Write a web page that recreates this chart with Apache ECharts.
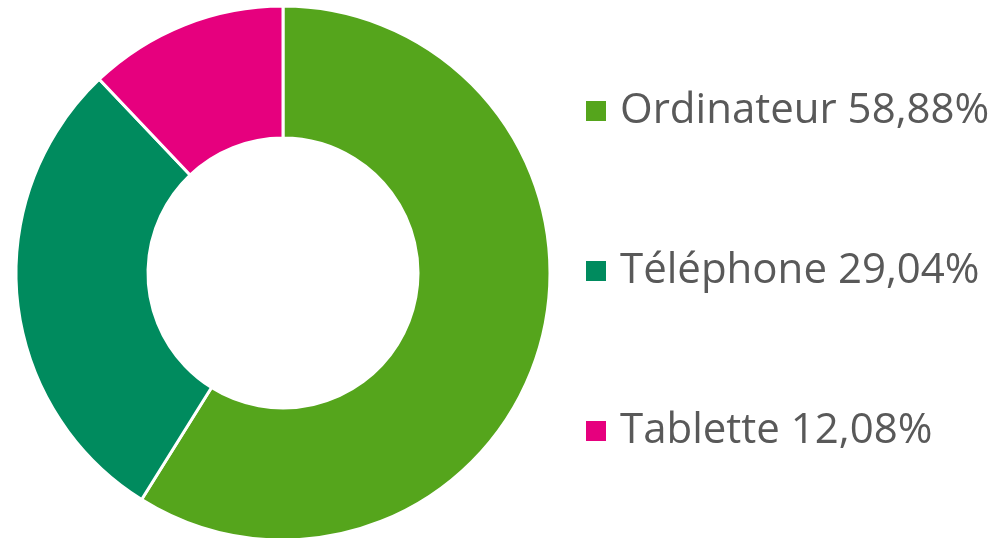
<!DOCTYPE html>
<html><head><meta charset="utf-8">
<script src="https://cdn.jsdelivr.net/npm/echarts@6/dist/echarts.min.js"></script>
<style>html,body{margin:0;padding:0;background:#fff}#c{width:995px;height:538px}</style>
</head><body><div id="c"></div>
<script>
const categories = ['Ordinateur', 'Téléphone', 'Tablette'];
const values = [58.88, 29.04, 12.08];
const labels = ['58,88%', '29,04%', '12,08%'];
const colors = ['#55A51C', '#008B5E', '#E6007E'];

const chart = echarts.init(document.getElementById('c'), null, {renderer: 'canvas'});
chart.setOption({
  animation: false,
  color: colors,
  legend: {
    orient: 'vertical',
    left: 584,
    top: 88,
    padding: 0,
    itemWidth: 22,
    itemHeight: 22,
    itemGap: 114,
    icon: 'rect',
    textStyle: {fontFamily: 'Open Sans', fontSize: 42, color: '#595959', lineHeight: 46, padding: [0,0,0,8]},
    formatter: function (name) { return name + ' ' + labels[categories.indexOf(name)]; },
    data: categories
  },
  series: [{
    type: 'pie',
    center: [283, 273],
    radius: [135, 267],
    startAngle: 90,
    clockwise: true,
    label: {show: false},
    labelLine: {show: false},
    itemStyle: {borderColor: '#fff', borderWidth: 3},
    emphasis: {disabled: true},
    data: categories.map((c, i) => ({name: c, value: values[i]}))
  }]
});
</script></body></html>
